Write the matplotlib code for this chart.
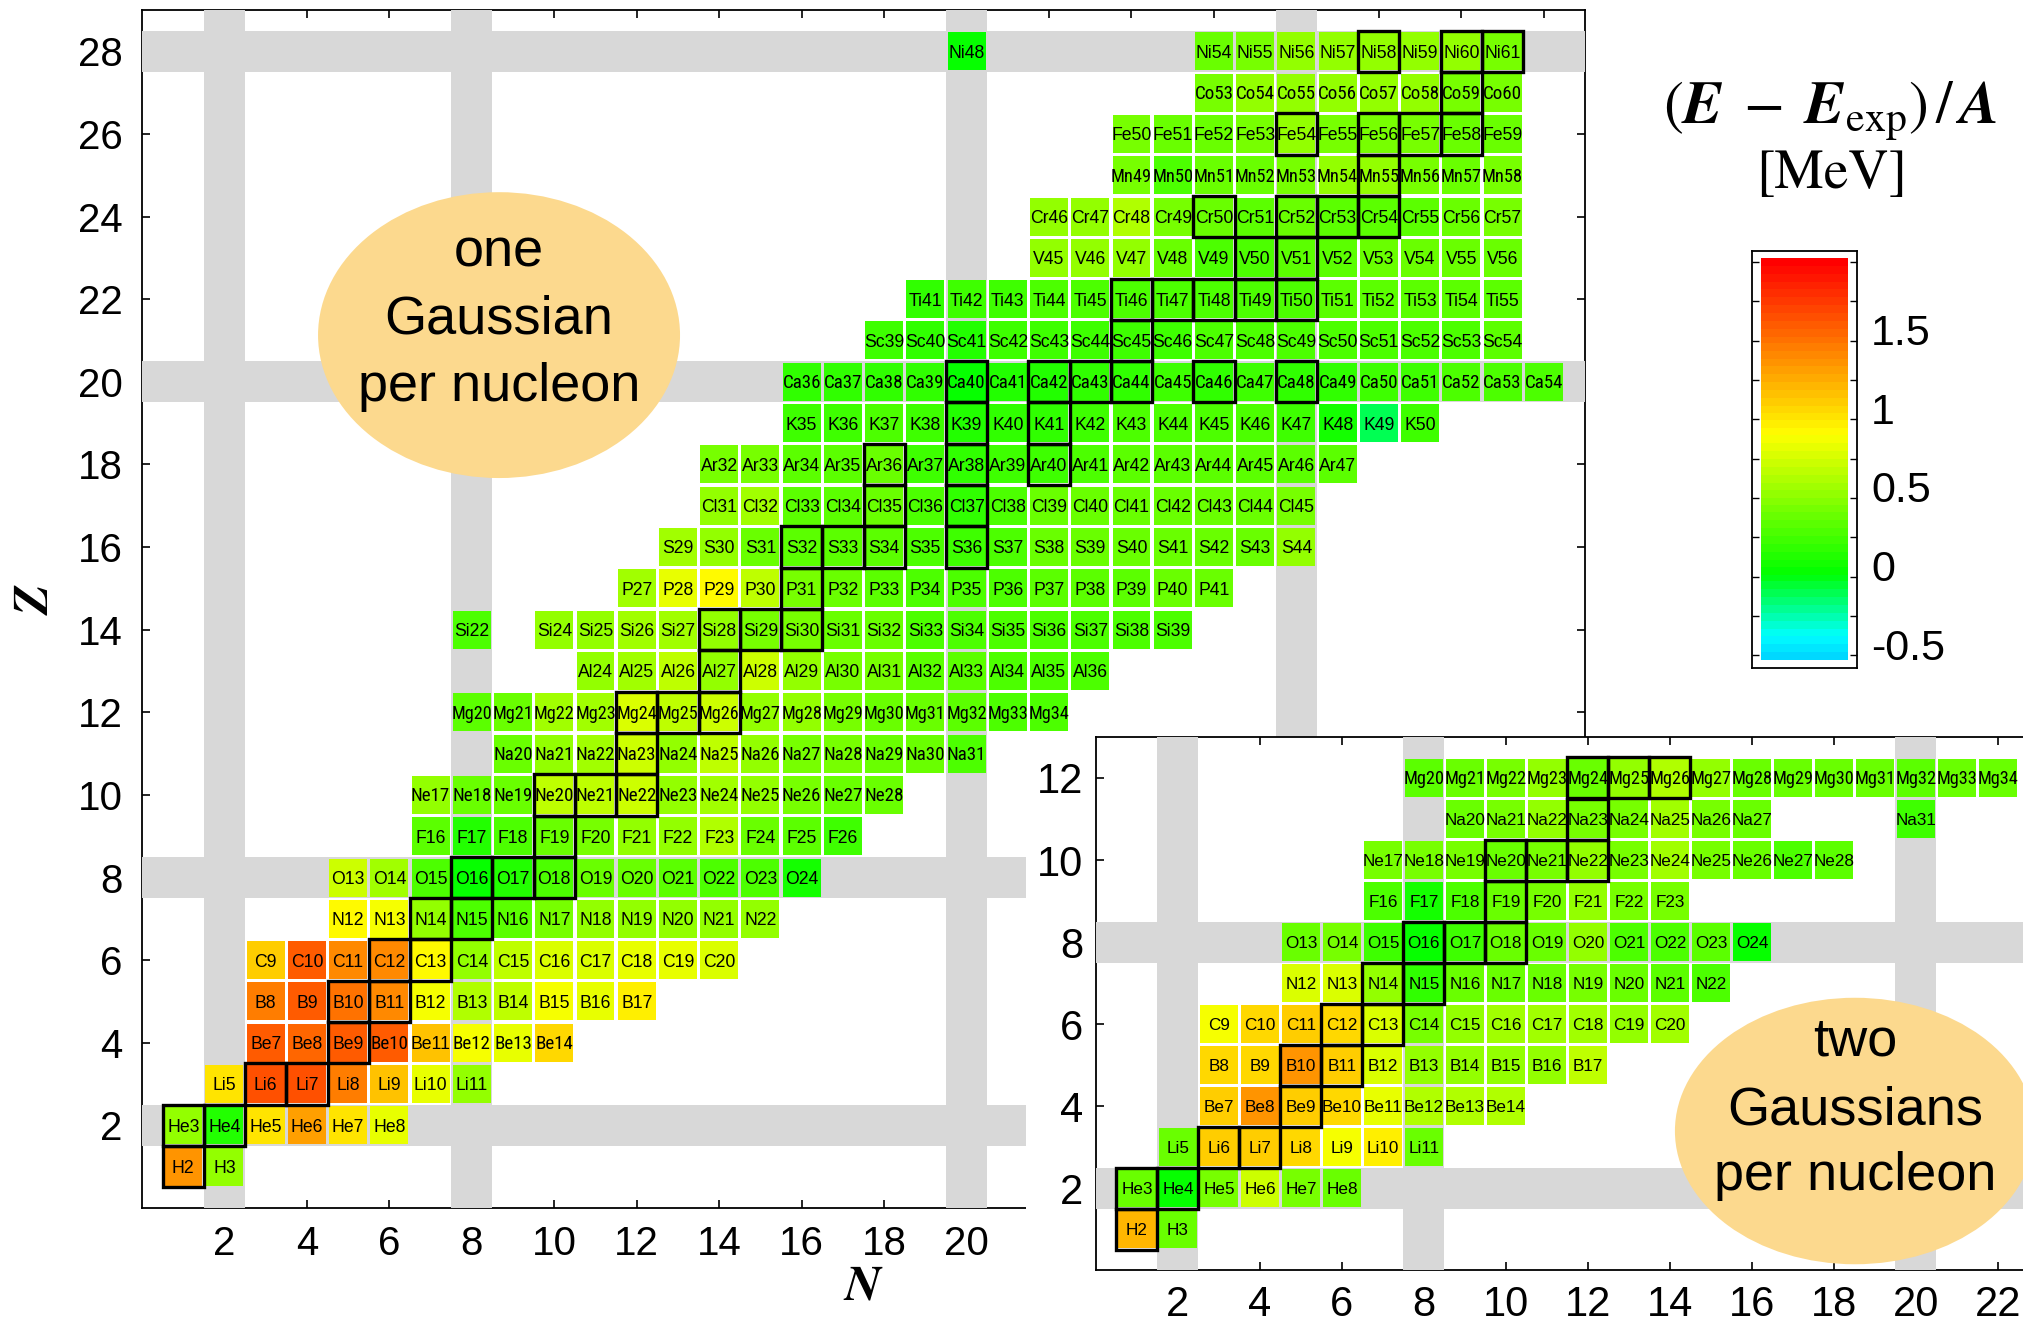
import numpy as np
import matplotlib
matplotlib.use("Agg")
import matplotlib.pyplot as plt
from matplotlib.patches import Rectangle, Ellipse
from matplotlib.colors import LinearSegmentedColormap, Normalize
from matplotlib.transforms import ScaledTranslation
from matplotlib.font_manager import fontManager

# ---------------------------------------------------------------- data
SYMBOLS = ["H", "He", "Li", "Be", "B", "C", "N", "O", "F", "Ne", "Na", "Mg", "Al", "Si",
           "P", "S", "Cl", "Ar", "K", "Ca", "Sc", "Ti", "V", "Cr", "Mn", "Fe", "Co", "Ni"]

STABLE = ["H2", "He3", "He4", "Li6", "Li7", "Be9", "B10", "B11", "C12", "C13", "N14", "N15",
          "O16", "O17", "O18", "F19", "Ne20", "Ne21", "Ne22", "Na23", "Mg24", "Mg25", "Mg26",
          "Al27", "Si28", "Si29", "Si30", "P31", "S32", "S33", "S34", "S36", "Cl35", "Cl37",
          "Ar36", "Ar38", "Ar40", "K39", "K41", "Ca40", "Ca42", "Ca43", "Ca44", "Ca46", "Ca48",
          "Sc45", "Ti46", "Ti47", "Ti48", "Ti49", "Ti50", "V50", "V51", "Cr50", "Cr52", "Cr53",
          "Cr54", "Mn55", "Fe54", "Fe56", "Fe57", "Fe58", "Co59", "Ni58", "Ni60", "Ni61"]

# one Gaussian per nucleon: proton number, first neutron number, (E-Eexp)/A per cell [MeV]
one_z = list(range(1, 29))
one_n_first = [1, 1, 2, 3, 3, 3, 5, 5, 7, 7, 9, 8, 11, 8, 12, 13, 14, 14, 16, 16, 18, 19,
               22, 22, 24, 24, 26, 20]
one_values = [
    [1.35, .54],
    [.54, .14, 1.0, 1.32, 1.03, .82],
    [1.0, 1.63, 1.63, 1.46, 1.15, .82, .54],
    [1.6, 1.55, 1.6, 1.58, 1.18, .86, .82, 1.07],
    [1.46, 1.6, 1.52, 1.4, .88, .63, .68, .86, .82, .95],
    [1.12, 1.58, 1.4, 1.4, .9, .5, .68, .77, .77, .82, .8, .78],
    [.92, .86, .5, .27, .32, .45, .5, .5, .5, .5, .5],
    [.72, .55, .27, .05, .14, .27, .36, .4, .32, .27, .27, .09],
    [.32, .14, .27, .4, .45, .54, .54, .63, .4, .32, .22],
    [.5, .36, .4, .68, .68, .72, .54, .58, .5, .45, .4, .36],
    [.4, .5, .58, .72, .54, .68, .5, .45, .45, .4, .36, .3],
    [.32, .4, .58, .58, .76, .68, .72, .54, .5, .45, .4, .36, .32, .3, .3],
    [.5, .58, .68, .54, .72, .5, .45, .45, .32, .32, .3, .3, .3],
    [.27, None, .5, .54, .58, .58, .5, .45, .45, .4, .36, .27, .3, .3, .3, .3, .3, .3],
    [.58, .8, .9, .68, .45, .36, .32, .27, .27, .3, .35, .35, .35, .38, .4],
    [.58, .5, .4, .32, .32, .32, .27, .22, .27, .36, .4, .4, .4, .4, .4, .5],
    [.5, .58, .32, .32, .36, .27, .2, .27, .4, .4, .4, .4, .4, .4, .45],
    [.45, .42, .32, .32, .36, .22, .18, .22, .22, .27, .32, .32, .32, .32, .32, .32],
    [.22, .25, .27, .25, .14, .18, .2, .25, .27, .27, .27, .27, .22, .09, -.1, .25],
    [.18, .18, .18, .18, .05, .11, .14, .18, .2, .22, .2, .22, .18, .2, .22, .25, .27, .27, .3],
    [.22, .18, .14, .22, .25, .25, .25, .25, .27, .27, .27, .3, .3, .3, .3, .32],
    [.18, .22, .22, .27, .27, .27, .3, .3, .3, .3, .32, .32, .32, .35, .35],
    [.5, .5, .5, .36, .27, .27, .32, .32, .36, .36, .4, .4],
    [.5, .5, .63, .45, .36, .32, .36, .32, .32, .32, .36, .42],
    [.45, .27, .36, .4, .45, .5, .54, .45, .4, .42],
    [.42, .4, .36, .45, .54, .45, .45, .42, .4, .4],
    [.45, .5, .5, .5, .54, .5, .45, .42],
    [.05, None, None, None, None, None, .4, .45, .5, .5, .54, .5, .5, .45],
]

# two Gaussians per nucleon (inset)
two_z = list(range(1, 13))
two_n_first = [1, 1, 2, 3, 3, 3, 5, 5, 7, 7, 9, 8]
two_values = [
    [1.2, .4],
    [.4, .05, .45, .72, .45, .4],
    [.4, 1.12, 1.12, 1.05, .88, .95, .36],
    [1.1, 1.35, 1.1, 1.05, .82, .63, .6, .6],
    [1.07, 1.07, 1.35, 1.1, .78, .5, .5, .5, .5, .68],
    [.85, 1.07, 1.1, 1.05, .78, .45, .5, .55, .55, .58, .5, .55],
    [.76, .76, .5, .18, .36, .4, .4, .45, .4, .32, .3],
    [.4, .45, .22, .05, .22, .4, .4, .5, .3, .3, .32, .05],
    [.27, .09, .3, .4, .45, .5, .45, .45],
    [.45, .45, .45, .4, .45, .5, .45, .58, .45, .4, .3, .32],
    [.4, .45, .5, .45, .45, .58, .45, .4, None, None, None, .22],
    [.32, .4, .45, .5, .4, .5, .6, .54, .4, .4, .36, .36, .32, .36, .4],
]

MAGIC_MAIN = [2, 8, 20, 28]
MAGIC_INSET_N = [2, 8, 20]
MAGIC_INSET_Z = [2, 8]

CBAR_TICKS = [-0.5, 0, 0.5, 1, 1.5]
CBAR_TICKLABELS = ["-0.5", "0", "0.5", "1", "1.5"]
CMAP_VALUES = [-0.53, -0.4, 0.0, 0.9, 2.02]
CMAP_COLORS = [(0.0, 0.85, 1.0), (0.0, 1.0, 1.0), (0.0, 1.0, 0.0), (1.0, 1.0, 0.0), (1.0, 0.0, 0.0)]

# ---------------------------------------------------------------- style
plt.rcParams["font.family"] = ["Liberation Sans", "DejaVu Sans"]
plt.rcParams["mathtext.fontset"] = "stix"

GRAY = "#d8d8d8"
ELLIPSE_COLOR = "#fcd98e"
VMIN, VMAX = CMAP_VALUES[0], CMAP_VALUES[-1]
norm = Normalize(VMIN, VMAX)
cmap = LinearSegmentedColormap.from_list(
    "eexp", [((v - VMIN) / (VMAX - VMIN), c) for v, c in zip(CMAP_VALUES, CMAP_COLORS)], N=52)

names = {f.name for f in fontManager.ttflist}
REG = "Liberation Sans"
NARROW = None
for cand in ["Liberation Sans Narrow", "Arial Narrow", "Roboto Condensed", "Nimbus Sans Narrow"]:
    if cand in names:
        NARROW = cand
        break

W, H = 2024, 1322
fig = plt.figure(figsize=(W / 100, H / 100), dpi=100)
renderer = fig.canvas.get_renderer()


def fig_box(x0, y0, x1, y1):
    return [x0 / W, 1 - y1 / H, (x1 - x0) / W, (y1 - y0) / H]


def draw_cells(ax, zs, n_first, values, base_size, max_w_px, cap_offset):
    stable = set(STABLE)
    for z, n0, vals in zip(zs, n_first, values):
        for i, v in enumerate(vals):
            if v is None:
                continue
            n = n0 + i
            label = f"{SYMBOLS[z - 1]}{z + n}"
            ax.add_patch(Rectangle((n - 0.46, z - 0.46), 0.92, 0.92, facecolor=cmap(norm(v)),
                                   edgecolor="none", zorder=2))
            t = ax.text(n, z - cap_offset, label, ha="center", va="baseline", zorder=4,
                        family=REG, fontsize=base_size)
            w = t.get_window_extent(renderer).width
            if w > max_w_px:
                if NARROW:
                    t.set_family(NARROW)
                    w2 = t.get_window_extent(renderer).width
                    t.set_fontsize(min(base_size * 1.08, base_size * max_w_px / w2))
                else:
                    t.set_fontsize(base_size * max_w_px / w)
            if label in stable:
                ax.add_patch(Rectangle((n - 0.5, z - 0.5), 1, 1, fill=False, edgecolor="black",
                                       linewidth=2.4, zorder=3.5))


def style_axes(ax):
    ax.set_axisbelow(True)
    for sp in ax.spines.values():
        sp.set_linewidth(1.3)
        sp.set_zorder(0.8)


# ---------------------------------------------------------------- main panel
ax = fig.add_axes(fig_box(142, 10, 1585, 1208))
ax.set_zorder(0)
ax.set_xlim(0, 35)
ax.set_ylim(0, 29)
style_axes(ax)
for m in MAGIC_MAIN:
    ax.axvspan(m - 0.5, m + 0.5, color=GRAY, lw=0, zorder=1)
    ax.axhspan(m - 0.5, m + 0.5, color=GRAY, lw=0, zorder=1)
draw_cells(ax, one_z, one_n_first, one_values, 12.7, 41, 0.155)

xt = np.arange(2, 35, 2)
ax.set_xticks(xt)
ax.set_xticklabels([str(t) if t <= 20 else "" for t in xt])
ax.set_yticks(np.arange(2, 29, 2))
ax.tick_params(direction="in", top=True, right=True, length=6, width=1.2, labelsize=29)
ax.tick_params(axis="x", pad=12)
ax.tick_params(axis="y", pad=14)

ax.add_patch(Ellipse((8.66, 21.13), 8.78, 6.92, facecolor=ELLIPSE_COLOR, edgecolor="none", zorder=5))
for txt, yb in [("one", 22.78), ("Gaussian", 21.16), ("per nucleon", 19.54)]:
    ax.text(8.66, yb, txt, ha="center", va="baseline", fontsize=39, zorder=6)

fig.text(862 / W, 1 - 1287 / H, "N", ha="center", va="center", fontsize=36,
         family="STIXGeneral", style="italic", weight="bold")
fig.text(36 / W, 1 - 600 / H, "Z", ha="center", va="center", fontsize=36, rotation=90,
         family="STIXGeneral", style="italic", weight="bold")

# white box behind inset and its labels
fig.patches.append(Rectangle((1026 / W, 0), 1 - 1026 / W, 1 - 737 / H, transform=fig.transFigure,
                             facecolor="white", edgecolor="none", zorder=1))

# ---------------------------------------------------------------- inset panel
ax2 = fig.add_axes(fig_box(1096, 737, 2030, 1270))
ax2.set_zorder(2)
ax2.set_xlim(0, (2030 - 1096) / 41.0)
ax2.set_ylim(0, 13)
style_axes(ax2)
ax2.spines["right"].set_visible(False)
for m in MAGIC_INSET_N:
    ax2.axvspan(m - 0.5, m + 0.5, color=GRAY, lw=0, zorder=1)
for m in MAGIC_INSET_Z:
    ax2.axhspan(m - 0.5, m + 0.5, color=GRAY, lw=0, zorder=1)
draw_cells(ax2, two_z, two_n_first, two_values, 12.3, 41, 0.15)
ax2.set_xticks(np.arange(2, 23, 2))
ax2.set_yticks(np.arange(2, 13, 2))
ax2.tick_params(direction="in", top=True, right=False, length=6, width=1.2, labelsize=30)
ax2.tick_params(axis="x", pad=11)
ax2.tick_params(axis="y", pad=9)

ax2.add_patch(Ellipse((18.51, 3.39), 8.78, 6.5, facecolor=ELLIPSE_COLOR, edgecolor="none", zorder=5))
for txt, yb in [("two", 5.22), ("Gaussians", 3.56), ("per nucleon", 1.95)]:
    ax2.text(18.51, yb, txt, ha="center", va="baseline", fontsize=39, zorder=6)

# ---------------------------------------------------------------- colour bar
cax = fig.add_axes(fig_box(1752, 251, 1857, 668))
cax.set_zorder(3)
cax.set_xlim(0, 1)
cax.set_ylim(-0.58, 2.07)
grad = np.linspace(VMIN, VMAX, 256)[:, None]
cax.imshow(grad, extent=(0.086, 0.914, VMIN, VMAX), origin="lower", aspect="auto",
           cmap=cmap, norm=norm, interpolation="nearest")
cax.set_xticks([])
cax.set_yticks(CBAR_TICKS)
cax.set_yticklabels(CBAR_TICKLABELS)
cax.set_yticks([-0.25, 0.25, 0.75, 1.25, 1.75, 2.0], minor=True)
cax.tick_params(axis="y", which="both", direction="in", left=True, right=True,
                labelleft=False, labelright=True, length=5, width=1.0, labelsize=31, pad=10)
shift = ScaledTranslation(0, 8 / 72, fig.dpi_scale_trans)
for lab in cax.get_yticklabels():
    lab.set_transform(lab.get_transform() + shift)
for sp in cax.spines.values():
    sp.set_linewidth(1.3)

fig.text(1830 / W, 1 - 111 / H,
         r"$(\mathbfit{E}\;-\;\mathbfit{E}_{\mathrm{exp}})\,/\,\mathbfit{A}$",
         ha="center", va="center", fontsize=43)
fig.text(1832 / W, 1 - 175 / H, "[MeV]", ha="center", va="center", fontsize=40,
         family="STIXGeneral")

fig.savefig("out.png", dpi=100, facecolor="white")
